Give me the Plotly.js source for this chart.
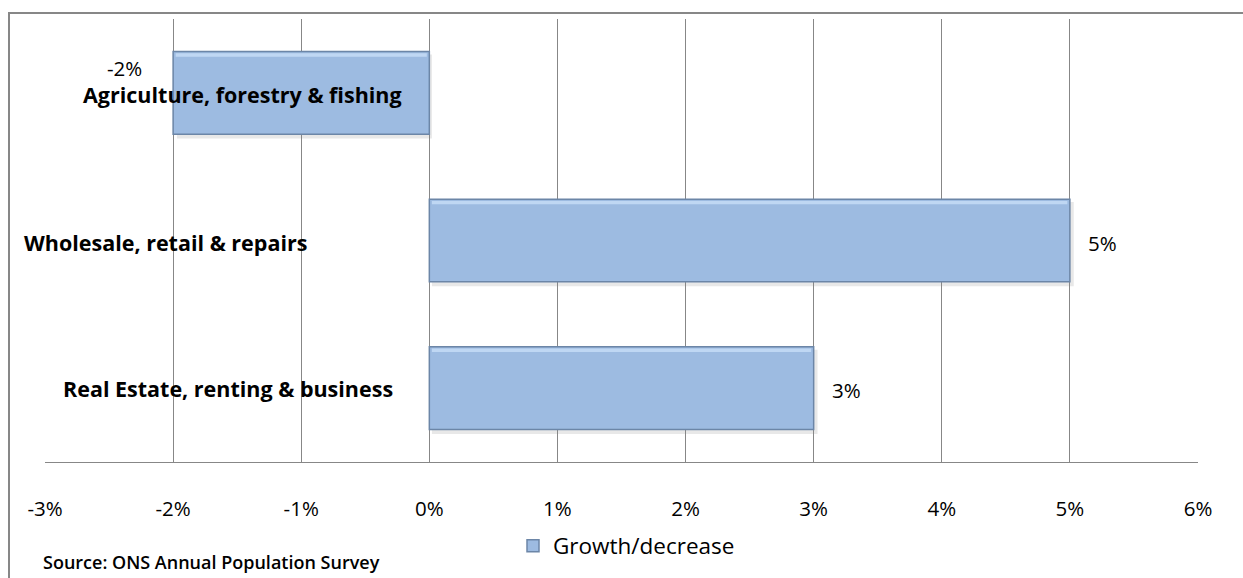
<!DOCTYPE html>
<html>
<head>
<meta charset="utf-8">
<script src="https://cdn.plot.ly/plotly-3.0.1.min.js"></script>
<style>
  html, body { margin: 0; padding: 0; background: #fff; }
  #wrap { position: relative; width: 1243px; height: 578px; overflow: hidden; }
  #frame { position: absolute; left: 8px; top: 12px; width: 1400px; height: 700px;
           border-left: 2px solid #878787; border-top: 2px solid #878787; pointer-events: none; }
  #chart { position: absolute; left: 0; top: 0; width: 1243px; height: 578px; }
</style>
</head>
<body>
<div id="wrap">
  <div id="chart"></div>
  <div id="frame"></div>
</div>
<script>
// Employment change by sector (percent)
const sectors = ['Agriculture, forestry & fishing', 'Wholesale, retail & repairs', 'Real Estate, renting & business'];
const change = [-2, 5, 3];
const valueLabels = ['-2%', '5%', '3%'];
const tickVals = [-3, -2, -1, 0, 1, 2, 3, 4, 5, 6];
const tickText = ['-3%', '-2%', '-1%', '0%', '1%', '2%', '3%', '4%', '5%', '6%'];
const seriesName = 'Growth/decrease';
const sourceNote = 'Source: ONS Annual Population Survey';

const font = '"Open Sans", sans-serif';
const barWidth = 0.56;
const yIdx = sectors.map((_, i) => i);

const bars = {
  type: 'bar',
  orientation: 'h',
  name: seriesName,
  x: change,
  y: yIdx,
  width: barWidth,
  marker: { color: '#9dbbe1', line: { color: '#6c86a7', width: 1.5 } },
  hoverinfo: 'skip',
  showlegend: true
};

// bevel highlight along the top edge of each bar, and a soft drop shadow
const shapes = [];
change.forEach((v, i) => {
  shapes.push({
    type: 'rect', xref: 'x', yref: 'y', layer: 'below',
    x0: 0.02, x1: v + 0.03, y0: i - barWidth / 2 + 0.02, y1: i + barWidth / 2 + 0.03,
    fillcolor: 'rgba(130,130,130,0.18)', line: { width: 0 }
  });
  shapes.push({
    type: 'rect', xref: 'x', yref: 'y', layer: 'above',
    x0: Math.min(0, v) + 0.02, x1: Math.max(0, v) - 0.02,
    y0: i - barWidth / 2 + 0.012, y1: i - barWidth / 2 + 0.035,
    fillcolor: 'rgba(200,222,248,0.8)', line: { width: 0 }
  });
});

// category names sit inside the plot area, beside the bars
const catPos = [
  { x: -1.46, yshift: -2 },
  { x: -2.06, yshift: -2 },
  { x: -1.57, yshift: 0 }
];
const annotations = sectors.map((s, i) => ({
  x: catPos[i].x, y: i, xref: 'x', yref: 'y', text: s, showarrow: false,
  xanchor: 'center', yanchor: 'middle', yshift: catPos[i].yshift,
  font: { family: font, size: 21.5, color: '#000', weight: 'bold' }
}));

// value labels outside the bar ends
change.forEach((v, i) => {
  const neg = v < 0;
  annotations.push({
    x: v, y: i, xref: 'x', yref: 'y', text: valueLabels[i], showarrow: false,
    xanchor: neg ? 'right' : 'left', xshift: neg ? -29 : 16, yshift: neg ? 25 : -2,
    font: { family: font, size: 20.5, color: '#000' }
  });
});

const L = 45, R = 45, T = 19, B = 115, W = 1243, H = 578;
const pw = W - L - R, ph = H - T - B;

annotations.push({
  x: (41 - L) / pw, y: (H - B - 563) / ph, xref: 'paper', yref: 'paper',
  text: sourceNote, showarrow: false, xanchor: 'left', yanchor: 'middle',
  font: { family: font, size: 18, color: '#000', weight: 600 }
});

const layout = {
  width: W, height: H,
  margin: { l: L, r: R, t: T, b: B, pad: 0 },
  paper_bgcolor: '#fff', plot_bgcolor: '#fff',
  xaxis: {
    range: [-3, 6], tickvals: tickVals, ticktext: tickText,
    showgrid: true, gridcolor: '#878787', gridwidth: 1,
    zeroline: false, showline: true, linecolor: '#878787', linewidth: 1,
    ticks: 'outside', ticklen: 28, tickcolor: 'rgba(0,0,0,0)',
    tickfont: { family: font, size: 20.5, color: '#000' },
    fixedrange: true
  },
  yaxis: {
    range: [2.5, -0.5], showgrid: false, zeroline: false, showline: false,
    showticklabels: false, ticks: '', fixedrange: true
  },
  showlegend: true,
  legend: {
    orientation: 'h', x: (513 - L) / pw, y: (H - B - 546) / ph,
    xanchor: 'left', yanchor: 'middle',
    font: { family: font, size: 22.5, color: '#000' },
    bgcolor: 'rgba(0,0,0,0)'
  },
  shapes: shapes,
  annotations: annotations
};

Plotly.newPlot('chart', [bars], layout, { displayModeBar: false, staticPlot: true });
</script>
</body>
</html>
